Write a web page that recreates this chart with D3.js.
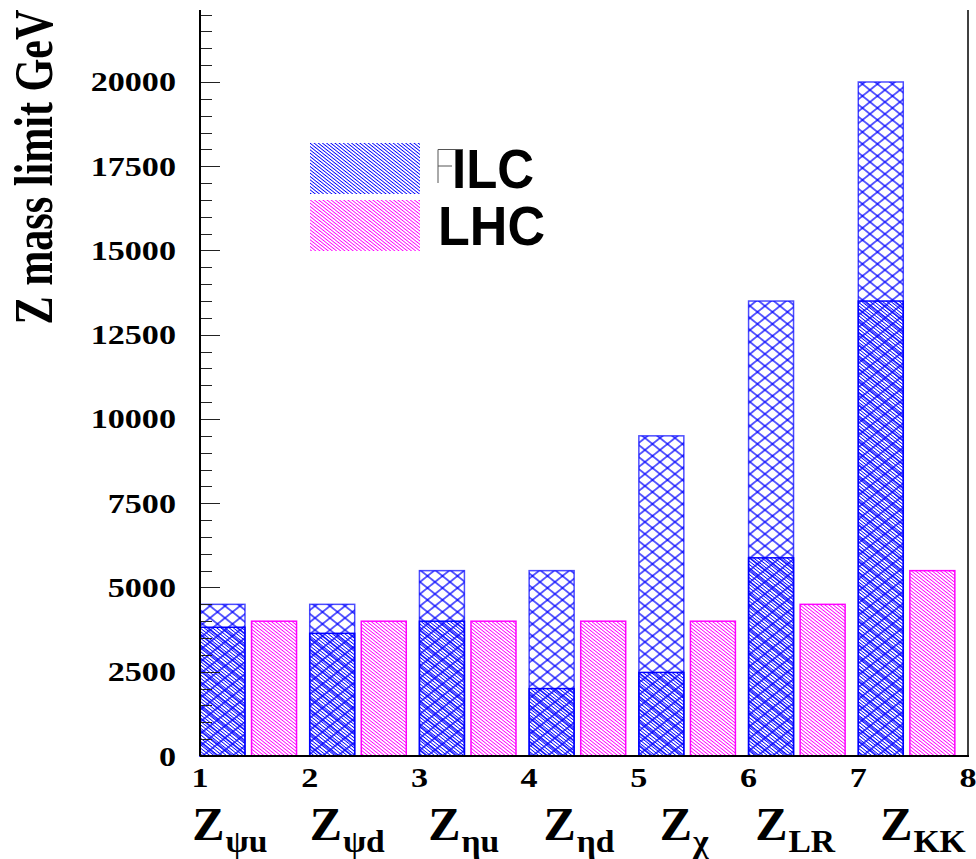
<!DOCTYPE html>
<html>
<head>
<meta charset="utf-8">
<script src="https://cdn.jsdelivr.net/npm/d3@7"></script>
<style>
  body { margin: 0; background: #fff; }
  svg { display: block; }
  .serif { font-family: "Liberation Serif", "Times New Roman", serif; font-weight: bold; }
  .sans { font-family: "Liberation Sans", Arial, sans-serif; font-weight: bold; }
</style>
</head>
<body>
<div id="chart"></div>
<script>
// data
var categories = ['\u03c8u', '\u03c8d', '\u03b7u', '\u03b7d', '\u03c7', 'LR', 'KK'];
var ilcLow = [3820, 3640, 4000, 2000, 2480, 5880, 13500];
var ilcHigh = [4500, 4500, 5500, 5500, 9500, 13500, 20000];
var lhc = [4000, 4000, 4000, 4000, 4000, 4500, 5500];
var xTicks = [1, 2, 3, 4, 5, 6, 7, 8];
var yTicks = [0, 2500, 5000, 7500, 10000, 12500, 15000, 17500, 20000];
var legendNames = ['ILC', 'LHC'];

// layout
var width = 976, height = 859;
var frame = { left: 200, right: 968, top: 10, bottom: 756 };
var yMax = 22136;
var labelPos = [0.93, 2.0, 3.08, 4.13, 5.19, 6.06, 7.2];

var blue = '#0000ff';
var magenta = '#ff00ff';

var svg = d3.select('#chart')
    .append('svg')
    .attr('width', width)
    .attr('height', height);

var x = d3.scaleLinear().domain([1, 8]).range([frame.left, frame.right]);
var y = d3.scaleLinear().domain([0, yMax]).range([frame.bottom, frame.top]);

// hatch patterns (rotated line tiles)
var defs = svg.append('defs');
var angle = Math.atan(0.8) * 180 / Math.PI;

function linePattern(id, color, spacing, rot, sw, crisp) {
    var p = defs.append('pattern')
        .attr('id', id)
        .attr('patternUnits', 'userSpaceOnUse')
        .attr('width', 20)
        .attr('height', spacing)
        .attr('patternTransform', 'rotate(' + rot + ')');
    p.append('line')
        .attr('x1', -2).attr('x2', 22)
        .attr('y1', spacing / 2).attr('y2', spacing / 2)
        .attr('stroke', color)
        .attr('stroke-width', sw)
        .attr('shape-rendering', crisp ? 'crispEdges' : 'auto');
}
linePattern('denseBlue', blue, 2.6, angle, 1.1, true);
linePattern('denseMag', magenta, 2.6, angle, 1, true);
linePattern('crossA', blue, 9.37, angle, 1.25, false);
linePattern('crossB', blue, 9.37, -angle, 1.25, false);

var idx = d3.range(categories.length);

// ILC total (cross hatch)
['crossA', 'crossB'].forEach(function (pid) {
    svg.append('g').selectAll('rect')
        .data(idx)
        .enter()
        .append('rect')
        .attr('x', function (i) { return x(i + 1); })
        .attr('width', function (i) { return x(i + 1.41) - x(i + 1); })
        .attr('y', function (i) { return y(ilcHigh[i]); })
        .attr('height', function (i) { return y(0) - y(ilcHigh[i]); })
        .attr('fill', 'url(#' + pid + ')');
});
svg.append('g').selectAll('rect')
    .data(idx)
    .enter()
    .append('rect')
    .attr('x', function (i) { return x(i + 1); })
    .attr('width', function (i) { return x(i + 1.41) - x(i + 1); })
    .attr('y', function (i) { return y(ilcHigh[i]); })
    .attr('height', function (i) { return y(0) - y(ilcHigh[i]); })
    .attr('fill', 'none')
    .attr('stroke', blue)
    .attr('stroke-opacity', 0.7)
    .attr('stroke-width', 1.5);

// ILC lower part (dense hatch on top)
svg.append('g').selectAll('rect')
    .data(idx)
    .enter()
    .append('rect')
    .attr('x', function (i) { return x(i + 1); })
    .attr('width', function (i) { return x(i + 1.41) - x(i + 1); })
    .attr('y', function (i) { return y(ilcLow[i]); })
    .attr('height', function (i) { return y(0) - y(ilcLow[i]); })
    .attr('fill', 'url(#denseBlue)')
    .attr('stroke', blue)
    .attr('stroke-width', 1.5);

// LHC
svg.append('g').selectAll('rect')
    .data(idx)
    .enter()
    .append('rect')
    .attr('x', function (i) { return x(i + 1.47); })
    .attr('width', function (i) { return x(i + 1.88) - x(i + 1.47); })
    .attr('y', function (i) { return y(lhc[i]); })
    .attr('height', function (i) { return y(0) - y(lhc[i]); })
    .attr('fill', 'url(#denseMag)')
    .attr('stroke', magenta)
    .attr('stroke-width', 1.5);

// y axis: ticks point into the frame
var minor = d3.range(0, yMax, 500);
svg.append('g').selectAll('line')
    .data(minor)
    .enter()
    .append('line')
    .attr('x1', frame.left)
    .attr('x2', function (d) { return frame.left + (d % 2500 === 0 ? 20 : 12); })
    .attr('y1', function (d) { return Math.round(y(d)) + 0.5; })
    .attr('y2', function (d) { return Math.round(y(d)) + 0.5; })
    .attr('stroke', '#222')
    .attr('stroke-width', 1);

svg.append('line')
    .attr('x1', frame.left).attr('x2', frame.left)
    .attr('y1', frame.top).attr('y2', frame.bottom)
    .attr('stroke', '#000').attr('stroke-width', 2);
svg.append('line')
    .attr('x1', frame.left).attr('x2', frame.right + 1)
    .attr('y1', frame.bottom).attr('y2', frame.bottom)
    .attr('stroke', '#000').attr('stroke-width', 2);
svg.append('line')
    .attr('x1', frame.right).attr('x2', frame.right)
    .attr('y1', frame.top).attr('y2', frame.bottom)
    .attr('stroke', '#000').attr('stroke-width', 1.5);

// y tick labels
svg.append('g').selectAll('text')
    .data(yTicks)
    .enter()
    .append('text')
    .attr('class', 'serif')
    .attr('font-size', 28)
    .attr('text-anchor', 'end')
    .attr('transform', function (d) { return 'translate(176,' + (y(d) + 9.5) + ') scale(1.22,1)'; })
    .text(function (d) { return d; });

// x tick labels
svg.append('g').selectAll('text')
    .data(xTicks)
    .enter()
    .append('text')
    .attr('class', 'serif')
    .attr('font-size', 28)
    .attr('text-anchor', 'middle')
    .attr('transform', function (d) { return 'translate(' + x(d) + ',787) scale(1.22,1)'; })
    .text(function (d) { return d; });

// category labels Z_sub
var cat = svg.append('g').selectAll('text')
    .data(idx)
    .enter()
    .append('text')
    .attr('class', 'serif')
    .attr('transform', function (i) { return 'translate(' + x(labelPos[i]) + ',840) scale(1.05,1)'; });
cat.append('tspan')
    .attr('font-size', 46)
    .text('Z');
cat.append('tspan')
    .attr('font-size', 32)
    .attr('dx', 1)
    .attr('dy', 12)
    .text(function (i) { return categories[i]; });

// y title
svg.append('text')
    .attr('class', 'serif')
    .attr('font-size', 43)
    .attr('text-anchor', 'middle')
    .attr('textLength', 315)
    .attr('lengthAdjust', 'spacingAndGlyphs')
    .attr('transform', 'translate(52,167) rotate(-90) scale(1,1.3)')
    .text('Z mass limit GeV');

// legend
var legend = svg.append('g');
legend.append('rect')
    .attr('x', 310).attr('y', 143).attr('width', 110).attr('height', 51)
    .attr('fill', 'url(#denseBlue)');
legend.append('rect')
    .attr('x', 310).attr('y', 200).attr('width', 110).attr('height', 51)
    .attr('fill', 'url(#denseMag)');
legend.append('path')
    .attr('d', 'M438,183V149.5H463M438,166H452')
    .attr('fill', 'none')
    .attr('stroke', '#555')
    .attr('stroke-width', 1);
legend.append('text')
    .attr('class', 'sans')
    .attr('x', 452).attr('y', 188)
    .attr('font-size', 55)
    .attr('textLength', 82)
    .attr('lengthAdjust', 'spacingAndGlyphs')
    .text(legendNames[0]);
legend.append('text')
    .attr('class', 'sans')
    .attr('x', 438).attr('y', 245)
    .attr('font-size', 55)
    .attr('textLength', 107)
    .attr('lengthAdjust', 'spacingAndGlyphs')
    .text(legendNames[1]);
</script>
</body>
</html>
